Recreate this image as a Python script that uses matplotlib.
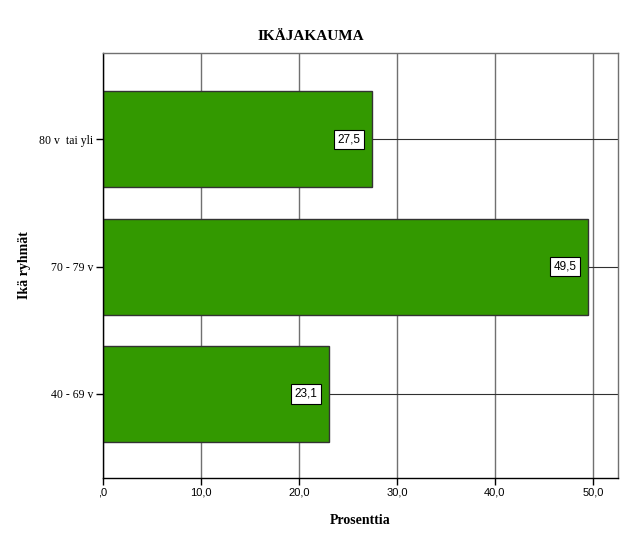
import matplotlib
matplotlib.use("Agg")
import matplotlib.pyplot as plt

# data
groups = ["40 - 69 v", "70 - 79 v", "80 v  tai yli"]
percent = [23.1, 49.5, 27.5]
x_ticks = [0, 10, 20, 30, 40, 50]
x_tick_labels = [",0", "10,0", "20,0", "30,0", "40,0", "50,0"]

fig = plt.figure(figsize=(6.26, 5.41), dpi=100)
ax = fig.add_axes([0.1645, 0.1165, 0.8225, 0.7855])

ypos = list(range(len(groups)))

# grid first so bars sit on top
for x in x_ticks:
    ax.axvline(x, color="#707070", lw=1.0, zorder=0)
for y in ypos:
    ax.axhline(y, color="#303030", lw=0.8, zorder=0)

ax.barh(ypos, percent, height=0.753, color="#339900",
        edgecolor="#333333", linewidth=1.0, zorder=2)

for y, v in zip(ypos, percent):
    ax.text(v - 1.2, y, f"{v:.1f}".replace(".", ","), ha="right", va="center",
            fontsize=8.5, family="Liberation Sans", zorder=3,
            bbox=dict(boxstyle="square,pad=0.3", fc="white", ec="black", lw=0.8))

ax.set_xlim(0, 52.55)
ax.set_ylim(-0.659, 2.675)
ax.set_xticks(x_ticks)
ax.set_xticklabels(x_tick_labels, fontsize=8, family="Liberation Sans")
ax.set_yticks(ypos)
ax.set_yticklabels(groups, fontsize=8.5, family="Liberation Serif")
ax.tick_params(axis="both", direction="out", length=5, width=1, color="black", pad=2)

for side in ["top", "right"]:
    ax.spines[side].set_color("#707070")
for side in ["left", "bottom"]:
    ax.spines[side].set_color("black")
for s in ax.spines.values():
    s.set_linewidth(1.0)

fig.text(0.497, 0.933, "IKÄJAKAUMA", ha="center", va="center",
         fontsize=11, fontweight="bold", family="Liberation Serif")
ax.set_xlabel("Prosenttia", fontsize=10, fontweight="bold",
              family="Liberation Serif", labelpad=12)
ax.set_ylabel("Ikä ryhmät", fontsize=10, fontweight="bold",
              family="Liberation Serif", labelpad=6)

fig.savefig("out.png", dpi=100)
